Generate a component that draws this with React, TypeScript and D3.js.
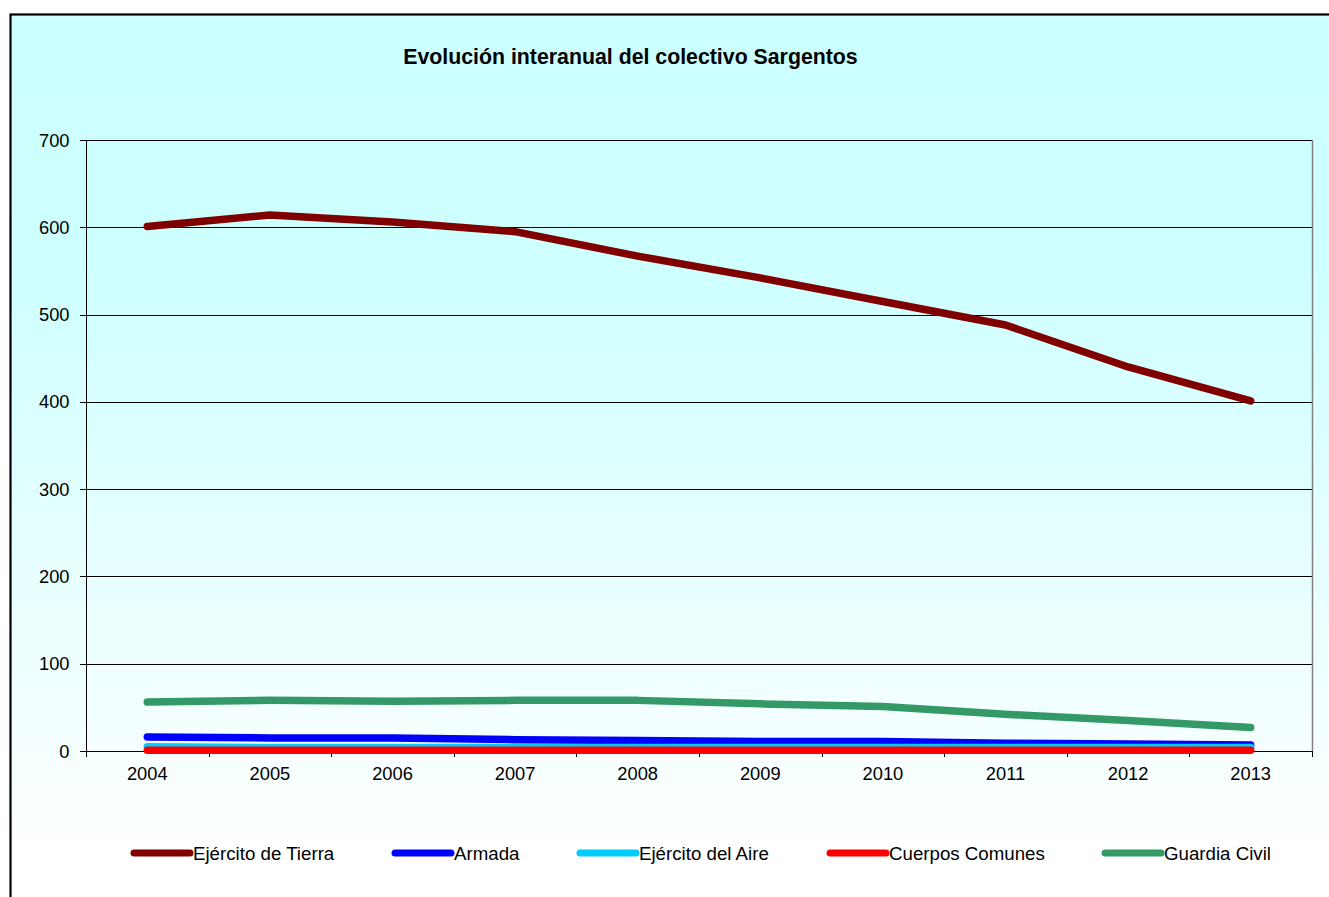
import React from "react";
import * as d3 from "d3";

const years = ["2004", "2005", "2006", "2007", "2008", "2009", "2010", "2011", "2012", "2013"];
const yTicks = [0, 100, 200, 300, 400, 500, 600, 700];
const ejercitoTierra = [601, 614, 606, 595, 567, 542, 515, 488, 440, 401];
const armada = [16, 15, 15, 13, 12, 11, 11, 9, 8, 7];
const ejercitoAire = [5, 4, 4, 4, 4, 4, 4, 4, 4, 4];
const cuerposComunes = [1, 1, 1, 1, 1, 1, 1, 1, 1, 1];
const guardiaCivil = [56, 58, 57, 58, 58, 54, 51, 42, 35, 27];
const seriesNames = ["Ejército de Tierra", "Armada", "Ejército del Aire", "Cuerpos Comunes", "Guardia Civil"];
const seriesColors = ["#800000", "#0000FF", "#00CCFF", "#FF0000", "#339966"];
const seriesValues = [ejercitoTierra, armada, ejercitoAire, cuerposComunes, guardiaCivil];
const title = "Evolución interanual del colectivo Sargentos";

const W = 1329;
const H = 897;
const plot = { left: 86, right: 1312, top: 140, bottom: 751 };
const legendX = [134, 395, 580, 830, 1105];
const FONT = "'Liberation Sans', Arial, sans-serif";

export default function App() {
  const x = d3.scaleBand<string>().domain(years).range([plot.left, plot.right]).padding(0);
  const y = d3.scaleLinear().domain([0, 700]).range([plot.bottom, plot.top]);
  const cx = (i: number) => (x(years[i]) as number) + x.bandwidth() / 2;
  const line = d3
    .line<number>()
    .x((_, i) => cx(i))
    .y((v) => y(v));
  const boundaries = years.map((yr) => x(yr) as number).concat([plot.right]);

  return (
    <>
      <style>{`html,body{margin:0;padding:0;overflow:hidden;background:#fff}`}</style>
      <svg width={W} height={H} style={{ display: "block" }} fontFamily={FONT}>
        <defs>
          <linearGradient id="bg" x1="0" y1="14" x2="0" y2="900" gradientUnits="userSpaceOnUse">
            <stop offset="0" stopColor="#CCFFFF" />
            <stop offset="0.3" stopColor="#CFFFFF" />
            <stop offset="0.95" stopColor="#FFFFFF" />
          </linearGradient>
        </defs>
        <rect x={10.5} y={14.5} width={W + 20} height={H + 20} fill="url(#bg)" stroke="#000" strokeWidth={2.2} />
        <text x={630.5} y={63.5} textAnchor="middle" fontWeight="bold" fontSize={21.3} fill="#000">
          {title}
        </text>
        {yTicks.filter((t) => t > 0).map((t) => (
          <line key={t} x1={plot.left} x2={plot.right} y1={Math.round(y(t)) + 0.5} y2={Math.round(y(t)) + 0.5} stroke="#000" strokeWidth={1} />
        ))}
        <line x1={plot.right + 0.5} x2={plot.right + 0.5} y1={plot.top} y2={plot.bottom} stroke="#808080" strokeWidth={1.5} />
        <line x1={plot.left + 0.5} x2={plot.left + 0.5} y1={plot.top} y2={plot.bottom} stroke="#000" strokeWidth={1} />
        {yTicks.map((t) => (
          <g key={t}>
            <line x1={plot.left - 6} x2={plot.left} y1={Math.round(y(t)) + 0.5} y2={Math.round(y(t)) + 0.5} stroke="#000" strokeWidth={1} />
            <text x={69.5} y={y(t) + 6.5} textAnchor="end" fontSize={18.3} fill="#000">
              {t}
            </text>
          </g>
        ))}
        <line x1={plot.left} x2={plot.right} y1={Math.round(y(0)) + 0.5} y2={Math.round(y(0)) + 0.5} stroke="#000" strokeWidth={1} />
        {boundaries.map((b, i) => (
          <line key={i} x1={Math.round(b) + 0.5} x2={Math.round(b) + 0.5} y1={plot.bottom} y2={plot.bottom + 6} stroke="#000" strokeWidth={1} />
        ))}
        {years.map((yr, i) => (
          <text key={yr} x={cx(i)} y={779.5} textAnchor="middle" fontSize={18.3} fill="#000">
            {yr}
          </text>
        ))}
        {seriesValues.map((vals, s) => (
          <path
            key={s}
            d={line(vals) as string}
            fill="none"
            stroke={seriesColors[s]}
            strokeWidth={7.5}
            strokeLinecap="round"
            strokeLinejoin="round"
          />
        ))}
        {seriesNames.map((name, s) => (
          <g key={name}>
            <line x1={legendX[s]} x2={legendX[s] + 56} y1={853} y2={853} stroke={seriesColors[s]} strokeWidth={7} strokeLinecap="round" />
            <text x={legendX[s] + 59} y={859.5} fontSize={18.7} fill="#000">
              {name}
            </text>
          </g>
        ))}
      </svg>
    </>
  );
}
